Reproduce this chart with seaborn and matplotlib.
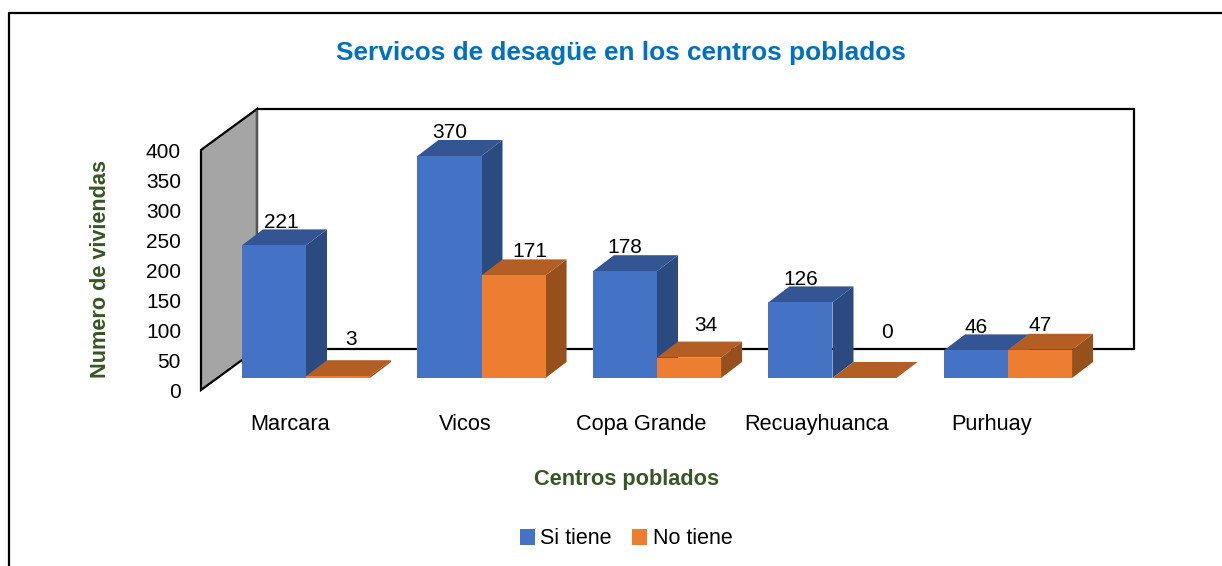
import matplotlib
matplotlib.use('Agg')
import matplotlib.pyplot as plt
from matplotlib.patches import Polygon
from matplotlib.transforms import ScaledTranslation
import numpy as np
import pandas as pd
import seaborn as sns

centros = ['Marcara', 'Vicos', 'Copa Grande', 'Recuayhuanca', 'Purhuay']
si_tiene = [221, 370, 178, 126, 46]
no_tiene = [3, 171, 34, 0, 47]
y_ticks = [0, 50, 100, 150, 200, 250, 300, 350, 400]

W, H, DPI = 1222, 566, 100
DEPTH_X, DEPTH_Y = 21, 16  # px offset of the 3D bar depth

# fill colours: front, top, side
colores = {
    'Si tiene': ('#4472C4', '#335593', '#2A4A80'),
    'No tiene': ('#ED7D31', '#B25E24', '#95501C'),
}
# label nudges in px from the centre/top of each bar
nudge_si = [(7, 24), (0, 25), (0, 25), (0, 24), (0, 24)]
nudge_no = [(13, 38), (16, 25), (17, 33), (22, 47), (0, 25)]

sns.set_theme(style='white')
plt.rcParams['font.family'] = ['Liberation Sans', 'DejaVu Sans']

df = pd.DataFrame({'centro': centros, 'Si tiene': si_tiene, 'No tiene': no_tiene})
df = df.melt(id_vars='centro', var_name='servicio', value_name='viviendas')

fig = plt.figure(figsize=(W / DPI, H / DPI), dpi=DPI, facecolor='white')

# background layer in pixel coordinates: page border and the 3D chart walls
bg = fig.add_axes([0, 0, 1, 1], zorder=0)
bg.set_xlim(0, W)
bg.set_ylim(H, 0)
bg.axis('off')
bg.plot([9, 9, W], [H, 13, 13], color='black', lw=1.6)
bg.add_patch(Polygon([(201, 150), (257, 109), (257, 349), (201, 390)], closed=True,
                     facecolor='#A5A5A5', edgecolor='black', lw=1.6))
bg.plot([257, 257], [109, 349], color='#555555', lw=1.6)
bg.plot([257, 1134, 1134, 257], [109, 109, 349, 349], color='black', lw=1.6)

ax = fig.add_axes([201 / W, (H - 378) / H, (1078 - 201) / W, 240 / H], zorder=1)
ax.patch.set_visible(False)

sns.barplot(data=df, x='centro', y='viviendas', hue='servicio', hue_order=['Si tiene', 'No tiene'],
            palette={k: v[0] for k, v in colores.items()}, saturation=1, width=0.73, gap=0,
            linewidth=0, ax=ax)

ax.set_xlim((201 - 306) / 175.5, (1078 - 306) / 175.5)
ax.set_ylim(0, 400)
sns.despine(ax=ax, left=True, bottom=True, top=True, right=True)

px_x = 1 / 175.5 * DEPTH_X
px_y = 400 / 240 * DEPTH_Y

# add top and side faces behind every front face, then the value label
for h, (cont, serie, nudges) in enumerate(zip(ax.containers, ['Si tiene', 'No tiene'], [nudge_si, nudge_no])):
    _, top_c, side_c = colores[serie]
    for i, bar in enumerate(cont.patches):
        x0, w, v = bar.get_x(), bar.get_width(), bar.get_height()
        z = 2 + i * 10 + h * 3
        ax.add_patch(Polygon([(x0 + w, 0), (x0 + w + px_x, px_y), (x0 + w + px_x, v + px_y), (x0 + w, v)],
                             closed=True, facecolor=side_c, edgecolor='none', zorder=z, clip_on=False))
        ax.add_patch(Polygon([(x0, v), (x0 + px_x, v + px_y), (x0 + w + px_x, v + px_y), (x0 + w, v)],
                             closed=True, facecolor=top_c, edgecolor='none', zorder=z + 1, clip_on=False))
        bar.set_zorder(z + 2)
        bar.set_clip_on(False)
        dx, dy = nudges[i]
        ax.annotate(str(int(v)), (x0 + w / 2, v), xytext=(dx * 0.72, (dy - 1) * 0.72),
                    textcoords='offset points', ha='center', va='center',
                    fontsize=15, color='black', zorder=60, annotation_clip=False)

# ticks: labels sit on the front edge of the side wall, not on the bar floor
ax.set_yticks(y_ticks)
ax.tick_params(axis='y', length=0, pad=14.4, labelsize=15, colors='black')
ax.tick_params(axis='x', length=0, pad=26, labelsize=15.7, colors='black')
down = ScaledTranslation(0, -12 / DPI, fig.dpi_scale_trans)
left = ScaledTranslation(-16 / DPI, 0, fig.dpi_scale_trans)
for lab in ax.get_yticklabels():
    lab.set_transform(lab.get_transform() + down)
for lab in ax.get_xticklabels():
    lab.set_transform(lab.get_transform() + left)

ax.set_xlabel('')
ax.set_ylabel('')
fig.text(621 / W, 1 - 53 / H, 'Servicos de desagüe en los centros poblados', ha='center', va='center',
         fontsize=18.9, fontweight='bold', color='#0070C0')
fig.text(627 / W, 1 - 480 / H, 'Centros poblados', ha='center', va='center',
         fontsize=15.7, fontweight='bold', color='#375623')
fig.text(100 / W, 1 - 269 / H, 'Numero de viviendas', ha='center', va='center', rotation=90,
         fontsize=15.6, fontweight='bold', color='#375623')

sns.move_legend(ax, 'center', bbox_to_anchor=(626 / W, 1 - 539 / H), bbox_transform=fig.transFigure,
                ncol=2, title=None, frameon=False, fontsize=15.5, handlelength=0.7, handleheight=0.7,
                handletextpad=0.25, columnspacing=0.95)
plt.setp(ax.get_legend().get_texts(), color='black')

fig.savefig('out.png', dpi=DPI)
